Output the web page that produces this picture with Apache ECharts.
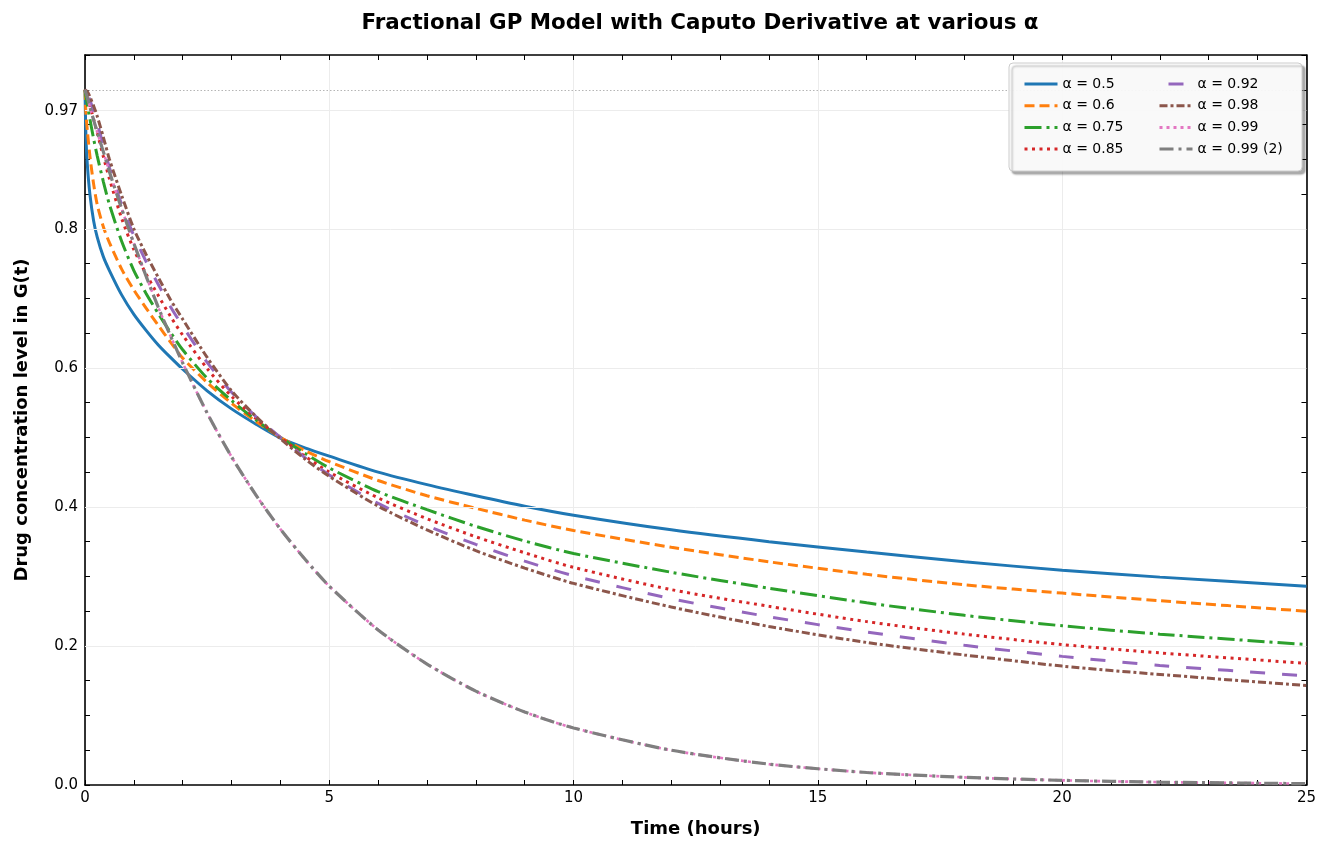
<!DOCTYPE html>
<html><head><meta charset="utf-8">
<script src="https://cdn.jsdelivr.net/npm/echarts@6/dist/echarts.min.js"></script>
<style>html,body{margin:0;padding:0;background:#fff;overflow:hidden}#c{width:1319px;height:843px}</style>
</head><body><div id="c"></div>
<script>
// ---- data ----
const T = [0, 0.02, 0.05, 0.1, 0.175, 0.25, 0.375, 0.5, 0.75, 1, 1.25, 1.5, 1.75, 2, 2.5, 3, 3.5, 4, 4.5, 5, 6, 7, 8, 9, 10, 12, 14, 16, 18, 20, 22, 25];
const seriesNames = ['α = 0.5', 'α = 0.6', 'α = 0.75', 'α = 0.85', 'α = 0.92', 'α = 0.98', 'α = 0.99', 'α = 0.99 (2)'];
const a050 = [1.0, 0.93, 0.89, 0.85, 0.812, 0.788, 0.76, 0.74, 0.705, 0.677, 0.654, 0.633, 0.615, 0.598, 0.567, 0.541, 0.519, 0.499, 0.485, 0.473, 0.45, 0.432, 0.416, 0.401, 0.388, 0.367, 0.35, 0.335, 0.321, 0.309, 0.299, 0.286];
const a060 = [1.0, 0.965, 0.94, 0.905, 0.865, 0.835, 0.803, 0.78, 0.742, 0.712, 0.686, 0.661, 0.637, 0.614, 0.579, 0.549, 0.523, 0.5, 0.481, 0.465, 0.438, 0.416, 0.398, 0.381, 0.366, 0.342, 0.321, 0.303, 0.288, 0.276, 0.265, 0.25];
const a075 = [1.0, 0.99, 0.978, 0.958, 0.93, 0.905, 0.868, 0.835, 0.782, 0.74, 0.707, 0.678, 0.651, 0.626, 0.585, 0.553, 0.525, 0.5, 0.477, 0.456, 0.422, 0.396, 0.372, 0.351, 0.333, 0.306, 0.283, 0.262, 0.244, 0.229, 0.217, 0.202];
const a085 = [1.0, 0.996, 0.99, 0.978, 0.958, 0.938, 0.904, 0.872, 0.815, 0.77, 0.735, 0.704, 0.674, 0.647, 0.599, 0.559, 0.527, 0.5, 0.473, 0.45, 0.413, 0.383, 0.357, 0.334, 0.313, 0.281, 0.257, 0.235, 0.217, 0.202, 0.19, 0.175];
const a092 = [1.0, 0.998, 0.995, 0.985, 0.97, 0.952, 0.92, 0.888, 0.835, 0.79, 0.753, 0.72, 0.688, 0.66, 0.608, 0.565, 0.53, 0.5, 0.471, 0.446, 0.405, 0.373, 0.346, 0.322, 0.301, 0.268, 0.242, 0.22, 0.201, 0.185, 0.172, 0.157];
const a098 = [1.0, 0.999, 0.997, 0.99, 0.977, 0.962, 0.932, 0.9, 0.848, 0.8, 0.763, 0.73, 0.698, 0.67, 0.615, 0.567, 0.53, 0.498, 0.469, 0.444, 0.401, 0.367, 0.337, 0.312, 0.29, 0.256, 0.228, 0.205, 0.187, 0.171, 0.159, 0.143];
const a099 = [1.0, 0.995, 0.988, 0.975, 0.957, 0.939, 0.911, 0.882, 0.829, 0.779, 0.732, 0.687, 0.646, 0.607, 0.535, 0.472, 0.417, 0.368, 0.325, 0.286, 0.223, 0.174, 0.135, 0.105, 0.082, 0.05, 0.03, 0.018, 0.011, 0.0067, 0.0041, 0.0019];
const a099b = [1.0, 0.995, 0.988, 0.975, 0.957, 0.939, 0.911, 0.882, 0.829, 0.779, 0.732, 0.687, 0.646, 0.607, 0.535, 0.472, 0.417, 0.368, 0.325, 0.286, 0.223, 0.174, 0.135, 0.105, 0.082, 0.05, 0.03, 0.018, 0.011, 0.0067, 0.0041, 0.0019];
const yTickLabels = [0, 0.2, 0.4, 0.6, 0.8, 0.97];
const refLevel = 1.0;

const allValues = [a050, a060, a075, a085, a092, a098, a099, a099b];
const colors = ['#1f77b4', '#ff7f0e', '#2ca02c', '#d62728', '#9467bd', '#8c564b', '#e377c2', '#7f7f7f'];
const dashes = ['solid', [10, 5], [17, 5, 3, 5], [3, 4.5], [15, 17], [8, 3, 3, 3], [3, 4], [14, 5, 3, 5]];
const dashOffsets = [0, 0, 0, 0, 23, 0, 0, 0];
const widths = [3, 3, 3, 3, 3, 3, 2.6, 3.2];

const FONT = 'DejaVu Sans';
const chart = echarts.init(document.getElementById('c'), null, {renderer: 'canvas', width: 1319, height: 843});

const series = allValues.map((vals, i) => ({
  name: seriesNames[i],
  type: 'line',
  data: T.map((t, k) => [t, vals[k]]),
  symbol: 'none',
  showSymbol: false,
  smooth: 0.25,
  z: 3 + i,
  lineStyle: {color: colors[i], width: widths[i], type: dashes[i], dashOffset: dashOffsets[i], cap: 'butt'},
  itemStyle: {color: colors[i]},
  emphasis: {disabled: true}
}));

series.unshift({
  name: '_grid',
  type: 'line',
  data: [],
  z: 1,
  silent: true,
  markLine: {
    silent: true,
    symbol: 'none',
    label: {show: false},
    animation: false,
    data: yTickLabels.filter(v => v > 0).map(v => ({yAxis: v, lineStyle: {color: '#ececec', width: 1, type: 'solid'}}))
      .concat([{yAxis: refLevel, lineStyle: {color: '#b5b5b5', width: 1, type: [1.5, 2]}}])
  }
});

const tickCommon = {show: true, inside: true, length: 5, lineStyle: {color: '#000', width: 1}};
const lineCommon = {show: true, onZero: false, lineStyle: {color: '#000', width: 1.6}};
function legendFor(names, left) {
  return {
    data: names, left: left,
    orient: 'vertical', top: 77, padding: 0,
    itemWidth: 33, itemHeight: 14, itemGap: 7.7, z: 60,
    itemStyle: {opacity: 0},
    lineStyle: {width: 3},
    textStyle: {fontFamily: FONT, fontSize: 14, color: '#000', lineHeight: 14}
  };
}

const option = {
  animation: false,
  backgroundColor: '#fff',
  title: {
    text: 'Fractional GP Model with Caputo Derivative at various α',
    left: 695, top: 8, textAlign: 'center',
    textStyle: {fontFamily: FONT, fontSize: 21.4, fontWeight: 'bold', color: '#000'}
  },
  grid: {left: 85, top: 55, width: 1222, height: 734, containLabel: false},
  xAxis: [{
    type: 'value', min: 0, max: 25, interval: 5,
    name: 'Time (hours)', nameLocation: 'middle', nameGap: 35,
    nameTextStyle: {fontFamily: FONT, fontSize: 18, fontWeight: 'bold', color: '#000'},
    axisLine: lineCommon,
    axisTick: tickCommon,
    minorTick: {show: true, splitNumber: 5, length: 5, lineStyle: {color: '#000', width: 1}},
    axisLabel: {fontFamily: FONT, fontSize: 15, color: '#000', margin: 6},
    splitLine: {show: true, lineStyle: {color: '#ececec', width: 1}}
  }, {
    type: 'value', min: 0, max: 25, interval: 5, position: 'top',
    axisLine: lineCommon,
    axisTick: tickCommon,
    minorTick: {show: true, splitNumber: 5, length: 5, lineStyle: {color: '#000', width: 1}},
    axisLabel: {show: false},
    splitLine: {show: false}
  }],
  yAxis: [{
    type: 'value', min: 0, max: 1.05, interval: 0.05,
    name: 'Drug concentration level in G(t)', nameLocation: 'middle', nameGap: 54,
    nameTextStyle: {fontFamily: FONT, fontSize: 18, fontWeight: 'bold', color: '#000'},
    axisLine: lineCommon,
    axisTick: tickCommon,
    axisLabel: {
      customValues: yTickLabels,
      fontFamily: FONT, fontSize: 15, color: '#000', margin: 7,
      formatter: v => (v === 0 ? '0.0' : String(v))
    },
    splitLine: {show: false}
  }, {
    type: 'value', min: 0, max: 1.05, interval: 0.05, position: 'right',
    axisLine: lineCommon,
    axisTick: tickCommon,
    axisLabel: {show: false},
    splitLine: {show: false}
  }],
  legend: [legendFor(seriesNames.slice(0, 4), 1023), legendFor(seriesNames.slice(4), 1158)],
  graphic: [{
    type: 'rect', z: 50,
    shape: {x: 1009, y: 63, width: 293, height: 108, r: 4},
    style: {fill: 'rgba(255,255,255,0.92)', stroke: '#cccccc', lineWidth: 1,
            shadowBlur: 2, shadowOffsetX: 3, shadowOffsetY: 3, shadowColor: 'rgba(0,0,0,0.35)'}
  }],
  series: series
};
chart.setOption(option);
</script>
</body></html>
